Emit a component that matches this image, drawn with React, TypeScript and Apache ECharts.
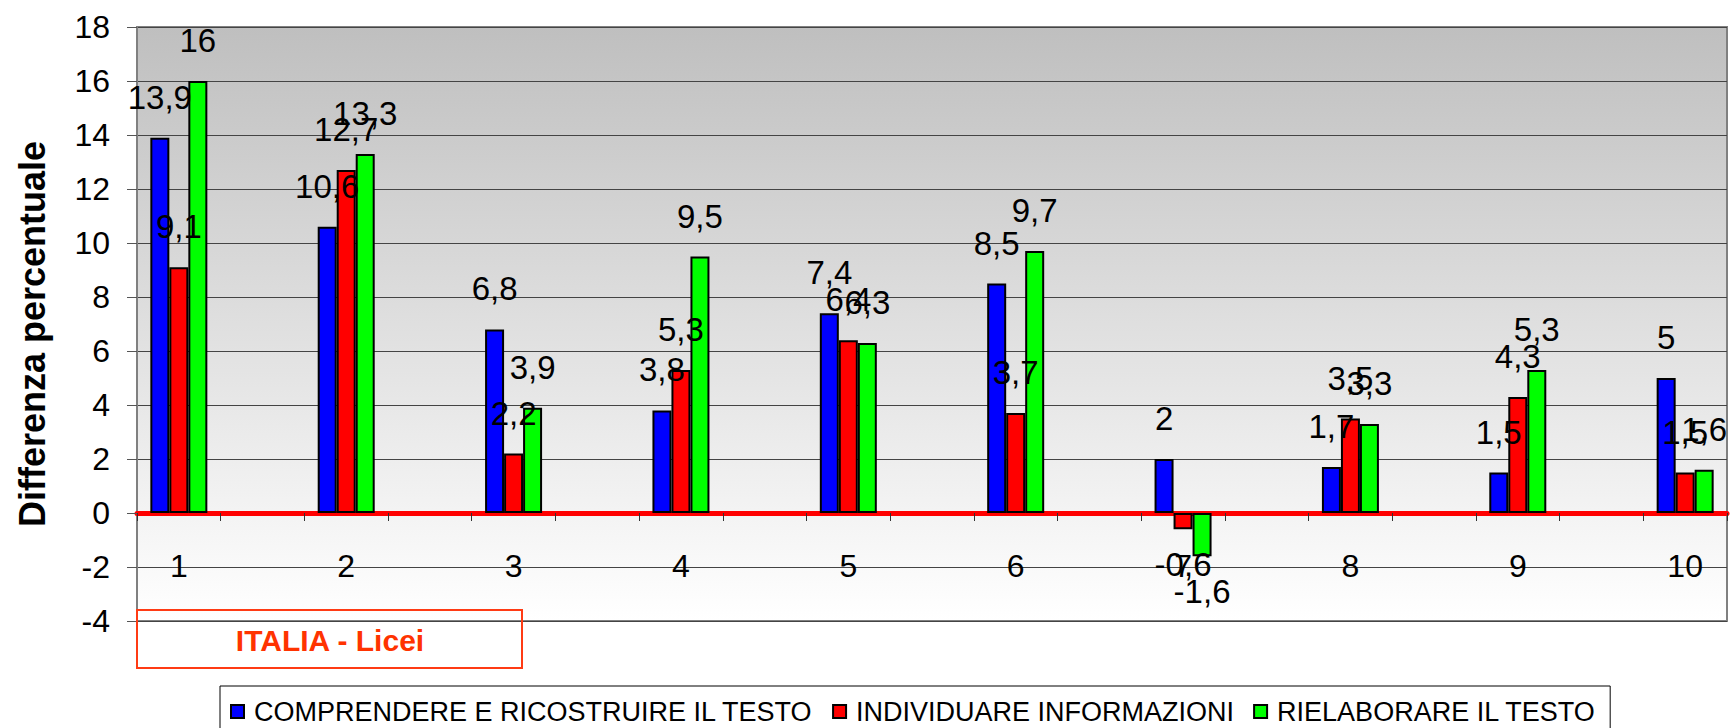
import React, { useEffect, useRef } from "react";
import * as echarts from "echarts";

const categories = ["1", "2", "3", "4", "5", "6", "7", "8", "9", "10"];
const comprendere = [13.9, 10.6, 6.8, 3.8, 7.4, 8.5, 2, 1.7, 1.5, 5];
const individuare = [9.1, 12.7, 2.2, 5.3, 6.4, 3.7, -0.6, 3.5, 4.3, 1.5];
const rielaborare = [16, 13.3, 3.9, 9.5, 6.3, 9.7, -1.6, 3.3, 5.3, 1.6];
const seriesNames = [
  "COMPRENDERE E RICOSTRUIRE IL TESTO",
  "INDIVIDUARE INFORMAZIONI",
  "RIELABORARE IL TESTO",
];
const seriesColors = ["#0000ff", "#ff0000", "#00ff00"];
const yTitle = "Differenza percentuale";
const boxLabel = "ITALIA - Licei";

const FONT = "'Liberation Sans', Arial, sans-serif";

// category slots: each category followed by an empty slot
const slots: string[] = [];
categories.forEach((c, i) => {
  slots.push(c);
  if (i < categories.length - 1) slots.push("gap" + i);
});

function expand(values: number[]) {
  const out: any[] = [];
  values.forEach((v, i) => {
    out.push({
      value: v,
      label: v < 0 ? { position: "bottom", distance: 19 } : { position: "top", distance: 24 },
    });
    if (i < values.length - 1) out.push("-");
  });
  return out;
}

export default function App() {
  const ref = useRef<HTMLDivElement>(null);
  useEffect(() => {
    if (!ref.current) return;
    const chart = echarts.init(ref.current, null, { renderer: "svg" });
    const allSeries = [comprendere, individuare, rielaborare].map((vals, i) => ({
      name: seriesNames[i],
      type: "bar",
      data: expand(vals),
      barWidth: 19,
      barGap: "0%",
      itemStyle: { color: seriesColors[i], borderColor: "#000", borderWidth: 2 },
      label: {
        show: true,
        fontSize: 33,
        fontFamily: FONT,
        color: "#000",
        formatter: (p: any) => String(p.value).replace(".", ","),
      },
    }));
    chart.setOption({
      animation: false,
      backgroundColor: "#ffffff",
      textStyle: { fontFamily: FONT },
      grid: {
        left: 137,
        right: 4,
        top: 27,
        bottom: 107,
        show: true,
        borderColor: "#808080",
        borderWidth: 2,
        backgroundColor: {
          type: "linear",
          x: 0,
          y: 0,
          x2: 0,
          y2: 1,
          colorStops: [
            { offset: 0, color: "#bfbfbf" },
            { offset: 1, color: "#ffffff" },
          ],
        },
      },
      legend: {
        left: 220,
        top: 686,
        icon: "rect",
        itemWidth: 13,
        itemHeight: 13,
        itemGap: 19,
        borderColor: "#000",
        borderWidth: 1,
        padding: [12, 14, 20, 10],
        textStyle: { fontSize: 27, fontFamily: FONT, color: "#000", padding: [0, 0, 0, 5] },
        data: seriesNames,
      },
      xAxis: {
        type: "category",
        data: slots,
        boundaryGap: true,
        axisLine: { show: true, onZero: true, lineStyle: { color: "#ff0000", width: 5 } },
        axisTick: { show: true, interval: 0, length: 8, lineStyle: { color: "#333", width: 1 } },
        axisLabel: {
          interval: 0,
          fontSize: 32,
          fontFamily: FONT,
          color: "#000",
          margin: -71,
          formatter: (v: string) => (v.startsWith("gap") ? "" : v),
        },
        splitLine: { show: false },
      },
      yAxis: {
        type: "value",
        min: -4,
        max: 18,
        interval: 2,
        axisLine: { show: true, lineStyle: { color: "#808080", width: 2 } },
        axisTick: { show: true, length: 10, lineStyle: { color: "#555" } },
        axisLabel: { fontSize: 32, fontFamily: FONT, color: "#000", margin: 27 },
        splitLine: { show: true, lineStyle: { color: "#444", width: 1 } },
      },
      graphic: [
        {
          type: "text",
          x: 32,
          y: 334,
          rotation: Math.PI / 2,
          style: {
            text: yTitle,
            fontSize: 36,
            fontWeight: "bold",
            fontFamily: FONT,
            fill: "#000",
            align: "center",
            verticalAlign: "middle",
          },
        },
        {
          type: "rect",
          shape: { x: 137, y: 610, width: 385, height: 58 },
          style: { fill: "rgba(255,255,255,0)", stroke: "#ff3b14", lineWidth: 2 },
          z: 10,
        },
        {
          type: "text",
          x: 330,
          y: 640,
          style: {
            text: boxLabel,
            fontSize: 30,
            fontWeight: "bold",
            fontFamily: FONT,
            fill: "#ff3300",
            align: "center",
            verticalAlign: "middle",
          },
          z: 10,
        },
      ],
      series: allSeries,
    });
    return () => chart.dispose();
  }, []);
  return (
    <div
      ref={ref}
      style={{ position: "fixed", left: 0, top: 0, width: 1731, height: 728 }}
    />
  );
}
